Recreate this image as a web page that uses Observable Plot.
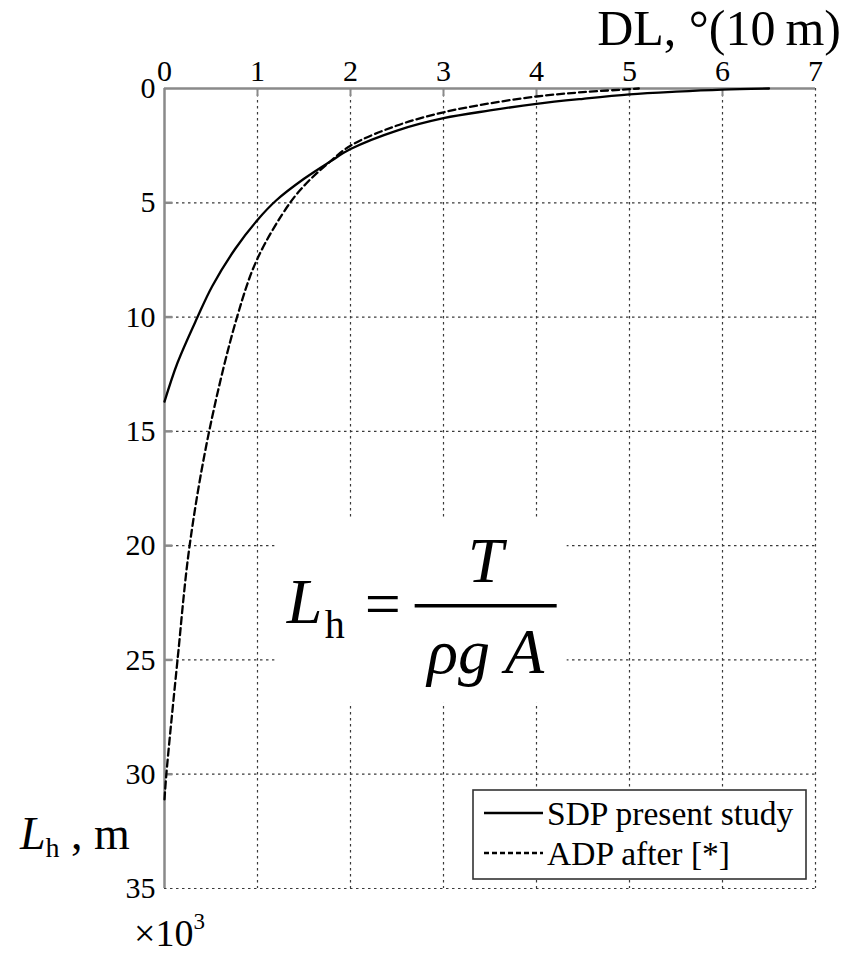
<!DOCTYPE html>
<html><head><meta charset="utf-8">
<script src="https://cdn.jsdelivr.net/npm/d3@7"></script>
<script src="https://cdn.jsdelivr.net/npm/@observablehq/plot@0.6"></script>
<style>
body{margin:0;background:#fff}
#chart svg{display:block}
</style>
</head><body><div id="chart"></div>
<script>
// ---- data ----
const xTicks = [0, 1, 2, 3, 4, 5, 6, 7];
const yTicks = [0, 5, 10, 15, 20, 25, 30, 35];
const seriesNames = ["SDP present study", "ADP after [*]"];
const xTitle = "DL, °(10\u2009m)";
const yMultiplier = "×10";
const yMultiplierExp = "3";

const sdpX = [0, 0.14, 0.355, 0.513, 0.763, 1.0, 1.2, 1.5, 1.78, 2.0, 2.5, 3.0, 3.5, 4.0, 4.5, 5.0, 5.5, 6.0, 6.5];
const sdpY = [13.7, 12.0, 10.0, 8.65, 7.0, 5.75, 4.9, 3.95, 3.2, 2.65, 1.84, 1.30, 0.96, 0.67, 0.45, 0.26, 0.14, 0.05, 0.0];

const adpX = [0, 0.02, 0.14, 0.27, 0.48, 0.78, 1.0, 1.35, 1.55, 1.78, 2.0, 2.5, 3.0, 3.5, 4.0, 4.5, 5.0, 5.1];
const adpY = [31.1, 30.0, 25.0, 20.0, 15.0, 10.0, 7.44, 5.0, 4.05, 3.2, 2.5, 1.62, 1.04, 0.65, 0.35, 0.16, 0.03, 0.0];

const sdp = sdpX.map((x, i) => ({x, y: sdpY[i]}));
const adp = adpX.map((x, i) => ({x, y: adpY[i]}));

// ---- plot ----
const FONT = "'Liberation Serif', 'Times New Roman', serif";
const gridStyle = {stroke: "#3a3a3a", strokeOpacity: 1, strokeWidth: 1.2, strokeDasharray: "2.5,3.5"};
const frameColor = "#8a8a8a";

const chart = Plot.plot({
  width: 847, height: 953,
  marginLeft: 164, marginRight: 32, marginTop: 88, marginBottom: 65,
  style: {fontFamily: FONT, fontSize: "30px", color: "#000", background: "#fff", overflow: "visible"},
  x: {domain: [0, 7]},
  y: {domain: [0, 35], reverse: true},
  marks: [
    Plot.gridX(xTicks.slice(1), gridStyle),
    Plot.gridY(yTicks.slice(1), gridStyle),
    Plot.ruleY([0], {stroke: frameColor, strokeWidth: 2.5}),
    Plot.ruleX([0], {stroke: frameColor, strokeWidth: 2.5}),
    Plot.ruleY(yTicks.slice(1, -1), {x1: 0, x2: 0.09, stroke: frameColor, strokeWidth: 2.5}),
    Plot.ruleX(xTicks.slice(1, -1), {y1: 0, y2: 0.35, stroke: frameColor, strokeWidth: 2}),
    Plot.axisX(xTicks, {anchor: "top", tickSize: 0, tickPadding: 8, label: null}),
    Plot.axisY(yTicks, {anchor: "left", tickSize: 0, tickPadding: 9, label: null}),
    Plot.line(sdp, {x: "x", y: "y", stroke: "#000", strokeWidth: 2.3, curve: "catmull-rom"}),
    Plot.line(adp, {x: "x", y: "y", stroke: "#000", strokeWidth: 2.3, strokeDasharray: "7,4", curve: "catmull-rom"})
  ]
});
document.getElementById("chart").append(chart);

// enlarge tick labels (inline style wins over Plot's defaults)
d3.select(chart).selectAll('g[aria-label="x-axis tick label"], g[aria-label="y-axis tick label"]')
  .style("font-size", "30px").selectAll("text").style("font-size", "30px");

// ---- annotations (rich text) ----
const svg = d3.select(chart);
const sx = chart.scale("x"), sy = chart.scale("y");
const X0 = sx.apply(0), X7 = sx.apply(7), Y0 = sy.apply(0), Y35 = sy.apply(35);

// formula with white background
const fg = svg.append("g").attr("font-family", FONT).attr("fill", "#000").attr("text-anchor", "start");
fg.append("rect").attr("x", sx.apply(1.19)).attr("y", sy.apply(18.8))
  .attr("width", sx.apply(4.33) - sx.apply(1.19)).attr("height", sy.apply(26.9) - sy.apply(18.8)).attr("fill", "#fff");
const fx = sx.apply(1.19), fy = sy.apply(18.8);
fg.append("text").attr("x", fx + 12).attr("y", fy + 105).style("font-size", "64px").attr("font-style", "italic").text("L");
fg.append("text").attr("x", fx + 50).attr("y", fy + 120).style("font-size", "40px").text("h");
fg.append("text").attr("x", fx + 90).attr("y", fy + 107).style("font-size", "64px").text("=");
fg.append("line").attr("x1", fx + 140).attr("x2", fx + 282).attr("y1", fy + 88).attr("y2", fy + 88)
  .attr("stroke", "#000").attr("stroke-width", 3.5);
fg.append("text").attr("x", fx + 211).attr("y", fy + 64).style("font-size", "64px").attr("font-style", "italic")
  .attr("text-anchor", "middle").text("T");
fg.append("text").attr("x", fx + 211).attr("y", fy + 155).style("font-size", "64px").attr("font-style", "italic")
  .attr("text-anchor", "middle").attr("xml:space", "preserve").text("ρg A");

// x title
svg.append("text").attr("font-family", FONT).style("font-size", "50px").attr("text-anchor", "end")
  .attr("x", X7 + 26).attr("y", Y0 - 43).attr("fill", "#000").text(xTitle);

// y title
const yt = svg.append("text").attr("font-family", FONT).style("font-size", "46px").attr("fill", "#000")
  .attr("text-anchor", "start").attr("x", X0 - 144).attr("y", Y35 - 39);
yt.append("tspan").attr("font-style", "italic").text("L");
yt.append("tspan").style("font-size", "28px").attr("dy", 8).text("h");
yt.append("tspan").attr("dy", -8).attr("xml:space", "preserve").text(" , m");

// multiplier
const ym = svg.append("text").attr("font-family", FONT).style("font-size", "38px").attr("fill", "#000")
  .attr("text-anchor", "start").attr("x", X0 - 30).attr("y", Y35 + 58);
ym.append("tspan").text(yMultiplier);
ym.append("tspan").style("font-size", "23px").attr("dy", -17).text(yMultiplierExp);

// legend
const lg = svg.append("g").attr("font-family", FONT).attr("fill", "#000").attr("text-anchor", "start");
const lx1 = X7 - 342, lx2 = X7 - 9, ly1 = Y35 - 98, ly2 = Y35 - 9;
lg.append("rect").attr("x", lx1).attr("y", ly1).attr("width", lx2 - lx1).attr("height", ly2 - ly1)
  .attr("fill", "#fff").attr("stroke", "#333").attr("stroke-width", 1.6);
const rows = [{dash: null, dy: 23}, {dash: "5,3", dy: 63}];
rows.forEach((r, i) => {
  const ln = lg.append("line").attr("x1", lx1 + 11).attr("x2", lx1 + 70)
    .attr("y1", ly1 + r.dy).attr("y2", ly1 + r.dy).attr("stroke", "#000").attr("stroke-width", 2.3);
  if (r.dash) ln.attr("stroke-dasharray", r.dash);
  lg.append("text").attr("x", lx1 + 74).attr("y", ly1 + r.dy + 12).style("font-size", "33.5px").text(seriesNames[i]);
});
</script>
</body></html>
